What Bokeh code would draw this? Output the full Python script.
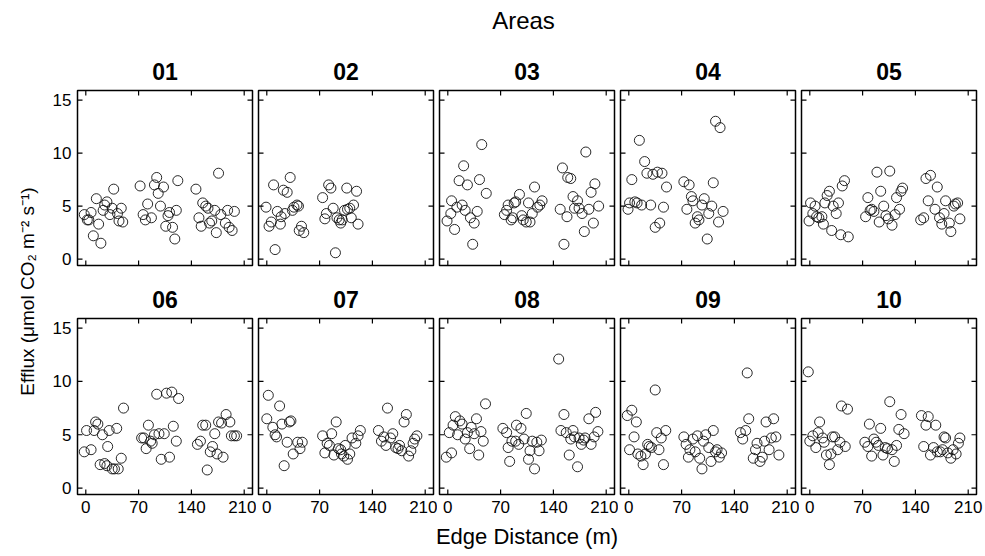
from math import pi

from bokeh.embed import file_html
from bokeh.layouts import column, row
from bokeh.models import FixedTicker, Label, LinearAxis, Range1d
from bokeh.plotting import figure
from bokeh.resources import INLINE

FONT = "Liberation Sans"

# Soil CO2 efflux against distance from the forest edge, one panel per area
area_names = ["01", "02", "03", "04", "05", "06", "07", "08", "09", "10"]

area_01_dist = [-2, 2, 4, 7, 10, 14, 17, 20, 23, 25, 28, 32, 35, 37, 42, 44, 47, 49,
                72, 76, 79, 82, 87, 91, 94, 96, 99, 103, 106, 109, 111, 115, 118, 120, 122,
                146, 150, 153, 155, 159, 162, 164, 167, 171, 173, 176, 179, 185, 188, 190, 194, 197]
area_01_efflux = [4.2, 3.7, 3.7, 4.4, 2.2, 5.7, 3.3, 1.5, 4.6, 5.1, 5.4, 4.2, 4.8, 6.6, 4.3, 3.6, 4.8, 3.5,
                  6.9, 4.2, 3.7, 5.2, 3.9, 7.0, 7.7, 6.2, 5.0, 6.8, 3.1, 4.1, 4.4, 3.0, 1.9, 4.6, 7.4,
                  6.6, 3.9, 3.1, 5.3, 5.0, 4.8, 3.4, 3.6, 4.6, 2.5, 8.1, 4.2, 3.4, 4.6, 3.0, 2.7, 4.5]

area_02_dist = [-1, 3, 6, 9, 11, 14, 18, 19, 22, 24, 27, 31, 34, 36, 40, 42, 43, 46, 49,
                74, 77, 79, 82, 85, 88, 91, 93, 96, 98, 100, 103, 106, 107, 110, 112, 115, 119, 121]
area_02_efflux = [4.9, 3.1, 3.5, 7.0, 0.9, 4.5, 3.3, 4.0, 6.5, 4.3, 6.3, 7.7, 4.6, 4.9, 5.1, 5.0, 2.7, 3.1, 2.5,
                  5.8, 3.8, 4.3, 7.0, 6.7, 4.8, 0.6, 3.9, 3.7, 3.4, 3.7, 4.6, 6.7, 4.7, 4.8, 3.9, 5.1, 6.4, 3.3]

area_03_dist = [-1, 4, 5, 9, 12, 15, 19, 21, 23, 26, 30, 33, 35, 39, 42, 45, 51,
                75, 78, 80, 84, 86, 88, 90, 95, 98, 100, 104, 107, 109, 112, 115, 119, 122, 125,
                149, 152, 154, 158, 159, 163, 166, 168, 172, 174, 178, 181, 183, 187, 190, 193, 195, 200]
area_03_efflux = [3.6, 4.3, 5.5, 2.8, 4.9, 7.4, 5.1, 8.8, 4.6, 7.0, 3.9, 1.4, 3.4, 4.5, 7.5, 10.8, 6.2,
                  4.2, 4.6, 5.1, 3.7, 3.9, 5.3, 5.4, 6.1, 4.1, 3.7, 3.5, 5.3, 3.5, 4.3, 6.8, 4.9, 5.1, 5.5,
                  4.7, 8.6, 1.4, 4.0, 7.7, 7.6, 5.9, 4.8, 5.5, 4.8, 4.3, 2.6, 10.1, 4.7, 6.3, 3.4, 7.1, 5.0]

area_04_dist = [-1, 1, 4, 8, 11, 14, 17, 21, 24, 29, 32, 35, 38, 41, 44, 46, 50,
                73, 77, 80, 83, 85, 88, 91, 93, 97, 100, 104, 106, 110, 112, 115, 119, 121, 125]
area_04_efflux = [4.7, 5.3, 7.5, 5.4, 5.3, 11.2, 5.1, 9.2, 8.1, 5.1, 8.0, 3.0, 8.2, 3.4, 8.1, 4.9, 6.8,
                  7.3, 4.7, 7.0, 5.9, 5.5, 3.4, 4.0, 3.7, 5.1, 5.7, 1.9, 4.3, 5.0, 7.2, 13.0, 3.5, 12.4, 4.5]

area_05_dist = [-1, 1, 4, 7, 9, 12, 16, 18, 20, 23, 26, 29, 31, 35, 38, 41, 43, 46, 51,
                74, 77, 80, 82, 85, 89, 92, 94, 98, 101, 104, 106, 109, 113, 115, 119, 121, 123,
                147, 151, 154, 157, 160, 166, 169, 172, 175, 178, 180, 185, 187, 191, 193, 196, 199]
area_05_efflux = [3.6, 5.3, 4.3, 5.0, 4.0, 3.9, 4.0, 3.3, 5.3, 6.0, 6.4, 2.7, 5.0, 4.3, 5.3, 2.3, 6.9, 7.4, 2.1,
                  4.0, 5.8, 4.6, 4.7, 4.5, 8.2, 3.5, 6.4, 5.0, 4.1, 3.8, 8.3, 3.2, 4.2, 5.8, 4.7, 6.4, 6.7,
                  3.7, 3.9, 7.6, 5.5, 7.9, 4.7, 6.8, 3.9, 3.3, 4.3, 5.5, 3.4, 2.6, 5.0, 5.2, 5.3, 3.8]

area_06_dist = [-2, 1, 7, 11, 13, 16, 19, 22, 25, 28, 29, 31, 35, 38, 41, 43, 47, 50,
                74, 77, 80, 83, 86, 88, 91, 94, 97, 100, 104, 107, 111, 114, 116, 120, 123,
                148, 152, 155, 159, 161, 165, 168, 171, 174, 176, 180, 182, 186, 191, 193, 197, 200]
area_06_efflux = [3.4, 5.4, 3.6, 5.4, 6.2, 6.0, 2.2, 5.0, 2.3, 2.1, 3.9, 5.4, 1.8, 1.8, 5.6, 1.8, 2.8, 7.5,
                  4.7, 4.7, 3.7, 5.9, 4.4, 4.2, 5.0, 8.8, 5.1, 2.7, 5.1, 8.9, 2.9, 9.0, 5.8, 4.4, 8.4,
                  4.1, 4.4, 5.9, 5.9, 1.7, 3.4, 3.9, 5.1, 3.2, 6.2, 6.1, 2.9, 6.9, 6.2, 4.9, 4.9, 4.9]

area_07_dist = [0, 2, 8, 11, 13, 17, 20, 23, 27, 30, 32, 35, 41, 44, 47,
                74, 77, 80, 83, 86, 89, 92, 95, 98, 99, 102, 104, 107, 110, 113, 118, 121, 124,
                148, 152, 155, 158, 160, 164, 167, 171, 174, 176, 179, 182, 185, 188, 191, 194, 196, 199]
area_07_efflux = [6.5, 8.7, 5.7, 5.0, 4.8, 7.7, 6.0, 2.1, 4.3, 6.2, 6.3, 3.2, 4.3, 3.7, 4.3,
                  4.9, 3.3, 4.2, 4.0, 5.1, 3.1, 6.2, 3.7, 3.6, 3.2, 3.0, 4.0, 2.7, 3.2, 4.7, 4.2, 4.9, 5.4,
                  5.4, 4.4, 4.8, 4.0, 7.5, 4.7, 5.1, 3.8, 3.7, 4.0, 3.5, 6.2, 6.9, 3.0, 3.5, 4.2, 4.6, 4.9]

area_08_dist = [-2, 2, 5, 7, 10, 13, 16, 19, 23, 26, 29, 31, 35, 38, 41, 44, 47, 50,
                73, 78, 80, 82, 85, 90, 91, 94, 97, 101, 104, 107, 109, 112, 115, 118, 121, 124,
                147, 150, 154, 157, 161, 163, 166, 168, 172, 174, 177, 180, 182, 187, 190, 194, 196, 199]
area_08_efflux = [2.9, 5.2, 3.3, 5.9, 6.7, 5.0, 6.3, 6.0, 4.6, 5.2, 3.7, 5.7, 5.1, 6.5, 3.1, 5.3, 4.4, 7.9,
                  5.6, 5.2, 3.8, 2.5, 4.4, 4.4, 5.9, 4.1, 5.6, 4.6, 7.0, 2.7, 3.5, 4.4, 1.8, 4.3, 3.5, 4.5,
                  12.1, 5.4, 6.9, 5.2, 3.1, 4.6, 5.4, 4.8, 2.0, 4.7, 4.1, 4.5, 4.7, 6.5, 4.1, 4.8, 7.1, 5.3]

area_09_dist = [-2, 1, 4, 7, 10, 12, 16, 19, 22, 25, 27, 30, 35, 37, 40, 43, 46, 49,
                73, 76, 79, 81, 85, 88, 91, 94, 97, 99, 102, 106, 109, 112, 115, 117, 120, 123,
                148, 151, 155, 157, 159, 165, 168, 170, 174, 177, 180, 182, 186, 189, 192, 195, 199]
area_09_efflux = [6.8, 3.6, 7.3, 4.8, 6.2, 3.2, 3.0, 2.2, 3.2, 4.1, 3.9, 3.8, 9.2, 5.2, 3.6, 4.7, 2.2, 5.4,
                  4.8, 4.1, 2.9, 3.6, 4.6, 3.4, 4.9, 2.8, 1.8, 4.4, 5.0, 3.8, 2.5, 5.4, 3.4, 3.6, 2.9, 3.3,
                  5.2, 4.6, 5.4, 10.8, 6.5, 2.8, 3.6, 4.2, 2.5, 2.9, 4.4, 6.2, 3.6, 4.7, 6.5, 4.8, 3.1]

area_10_dist = [-2, 0, 4, 8, 11, 13, 17, 19, 22, 26, 28, 30, 33, 37, 40, 42, 47, 50,
                73, 77, 79, 82, 85, 88, 91, 94, 97, 100, 103, 106, 109, 112, 115, 118, 121, 125,
                148, 151, 154, 157, 160, 164, 167, 169, 173, 176, 178, 180, 183, 187, 190, 194, 197, 199]
area_10_efflux = [10.9, 4.4, 4.9, 3.8, 5.2, 6.2, 4.7, 4.3, 3.1, 2.2, 3.2, 4.8, 4.8, 3.6, 4.3, 7.7, 3.9, 7.4,
                  4.3, 3.9, 6.0, 3.0, 4.6, 4.3, 4.0, 5.6, 3.1, 3.8, 3.7, 8.1, 3.6, 2.5, 4.0, 5.5, 6.9, 5.1,
                  6.8, 3.9, 5.9, 6.7, 3.1, 3.8, 5.9, 3.4, 3.4, 3.6, 4.8, 4.7, 3.3, 2.8, 3.6, 3.2, 4.2, 4.7]

x_ticks = [0, 70, 140, 210]
y_ticks = [0, 5, 10, 15]
x_label = "Edge Distance (m)"
y_label = "Efflux (\u03bcmol CO\u2082 m\u207b\u00b2 s\u207b\u00b9)"
top_label = "Areas"

series = {
    "01": (area_01_dist, area_01_efflux), "02": (area_02_dist, area_02_efflux),
    "03": (area_03_dist, area_03_efflux), "04": (area_04_dist, area_04_efflux),
    "05": (area_05_dist, area_05_efflux), "06": (area_06_dist, area_06_efflux),
    "07": (area_07_dist, area_07_efflux), "08": (area_08_dist, area_08_efflux),
    "09": (area_09_dist, area_09_efflux), "10": (area_10_dist, area_10_efflux),
}

X_LIMITS = (-11, 221)
Y_LIMITS = (-0.6, 15.9)
FRAME_W = 175
STRIP_W = 40
TOP_H = 40
TICK_LEN = 5


def label_axis(ax, ticks):
    """An axis that only carries the tick labels; the tick marks are drawn inward separately."""
    ax.ticker = FixedTicker(ticks=ticks)
    ax.axis_line_color = None
    ax.major_tick_in = 0
    ax.major_tick_out = 0
    ax.minor_tick_line_color = None
    ax.major_label_text_font = FONT
    ax.major_label_text_font_size = "17px"
    ax.major_label_text_color = "black"
    ax.major_label_standoff = 6
    return ax


def inward_ticks(p):
    """Short inward tick marks on all four sides of the frame."""
    style = dict(length=TICK_LEN, length_units="screen", line_color="black", line_width=1.2)
    x0, x1 = X_LIMITS
    y0, y1 = Y_LIMITS
    p.ray(x=x_ticks, y=[y1] * len(x_ticks), angle=-pi / 2, **style)
    p.ray(x=x_ticks, y=[y0] * len(x_ticks), angle=pi / 2, **style)
    p.ray(x=[x0] * len(y_ticks), y=y_ticks, angle=0, **style)
    p.ray(x=[x1] * len(y_ticks), y=y_ticks, angle=pi, **style)


def make_panel(name, col, row_idx):
    left_b = 37 if col == 0 else 2
    right_b = 9 if col == 4 else 4
    if row_idx == 0:
        top_b, frame_h, bottom_b = 50, 175, 5
    else:
        top_b, frame_h, bottom_b = 48, 176, 62
    p = figure(width=left_b + FRAME_W + right_b, height=top_b + frame_h + bottom_b,
               x_range=Range1d(*X_LIMITS), y_range=Range1d(*Y_LIMITS),
               x_axis_type=None, y_axis_type=None,
               min_border_left=left_b, min_border_right=right_b,
               min_border_top=top_b, min_border_bottom=bottom_b,
               output_backend="svg", toolbar_location=None)
    p.title.text = name
    p.title.text_font = FONT
    p.title.text_font_size = "23px"
    p.title.text_font_style = "bold"
    p.title.text_color = "black"
    p.title.align = "center"
    p.title.standoff = 22

    p.outline_line_color = "black"
    p.outline_line_width = 1.5
    p.outline_line_alpha = 1.0
    p.background_fill_color = "white"
    p.border_fill_color = "white"

    if row_idx == 1:
        bottom_ax = label_axis(LinearAxis(), x_ticks)
        if name == "08":
            bottom_ax.axis_label = x_label
            bottom_ax.axis_label_text_font = FONT
            bottom_ax.axis_label_text_font_size = "22px"
            bottom_ax.axis_label_text_font_style = "normal"
            bottom_ax.axis_label_text_color = "black"
            bottom_ax.axis_label_standoff = 8
        p.add_layout(bottom_ax, "below")
    if col == 0:
        p.add_layout(label_axis(LinearAxis(), y_ticks), "left")

    inward_ticks(p)

    xs, ys = series[name]
    p.scatter(xs, ys, marker="circle", size=10, fill_color=None,
              line_color="#111111", line_width=0.9)
    return p


def text_strip(width, height):
    s = figure(width=width, height=height, x_range=Range1d(0, width), y_range=Range1d(0, height),
               x_axis_type=None, y_axis_type=None, min_border=0,
               output_backend="svg", toolbar_location=None)
    s.outline_line_color = None
    s.background_fill_color = "white"
    s.border_fill_color = "white"
    return s


panels = [make_panel(n, i % 5, i // 5) for i, n in enumerate(area_names)]
grid_w = sum(p.width for p in panels[:5])

left_strip = text_strip(STRIP_W, 556)
left_strip.add_layout(Label(x=27, y=556 - 291, text=y_label, angle=pi / 2,
                            text_align="center", text_baseline="middle",
                            text_font=FONT, text_font_size="19px", text_color="black"))

top_strip = text_strip(grid_w, TOP_H)
top_strip.add_layout(Label(x=523 - STRIP_W, y=TOP_H - 20, text=top_label,
                           text_align="center", text_baseline="middle",
                           text_font=FONT, text_font_size="24px", text_color="black"))

layout = row(left_strip, column(top_strip, row(*panels[:5]), row(*panels[5:])))

with open("out.html", "w") as f:
    f.write(file_html(layout, INLINE))
